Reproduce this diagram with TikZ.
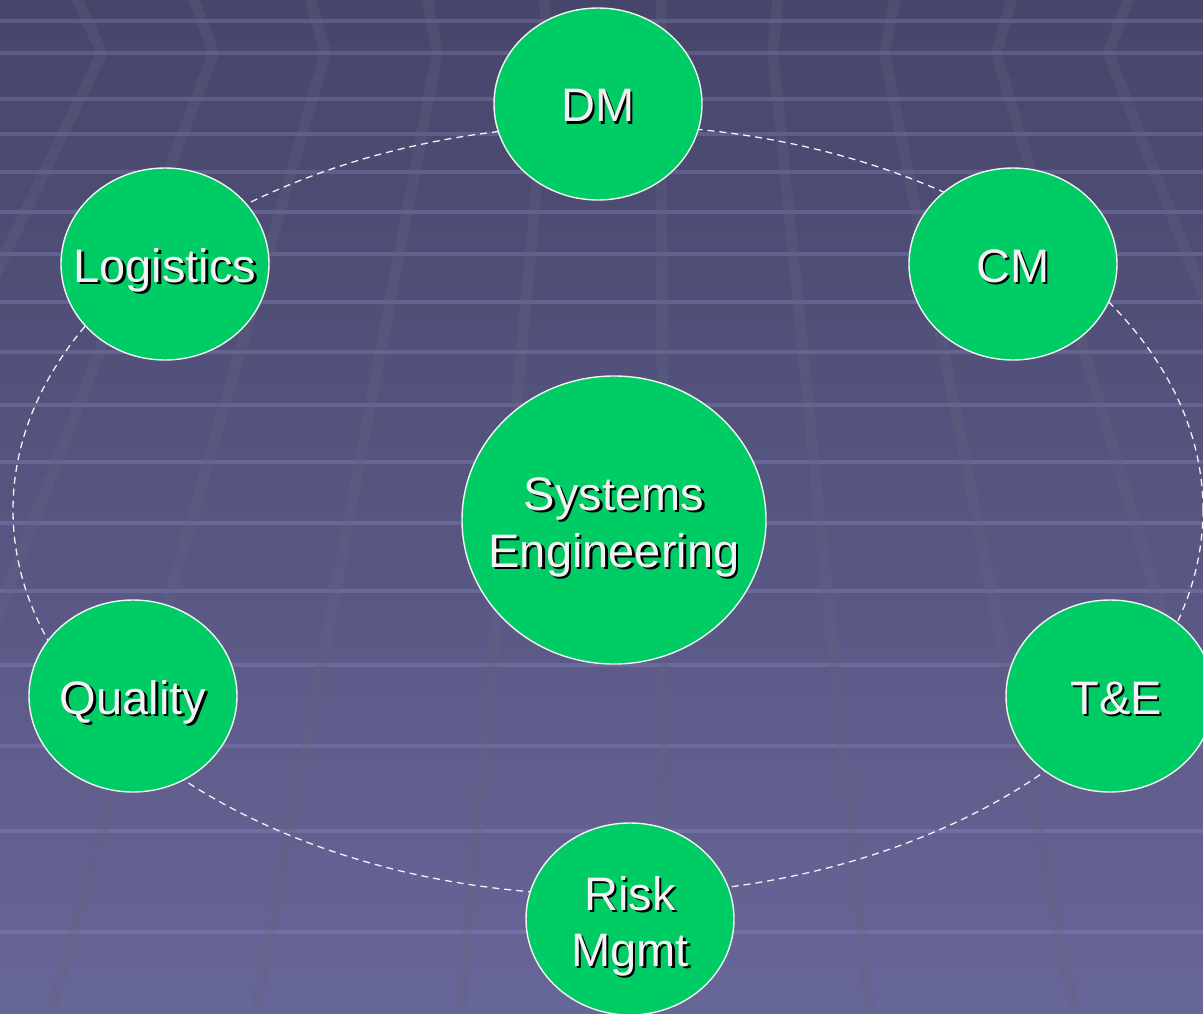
\documentclass[tikz,border=0pt]{standalone}
\usepackage{fontspec}
\setmainfont{Liberation Sans}
\usetikzlibrary{shapes.geometric}
\definecolor{bgtop}{RGB}{70,69,106}
\definecolor{bgbot}{RGB}{103,102,152}
\definecolor{nodegreen}{RGB}{0,204,102}
\definecolor{txt}{RGB}{242,242,242}
\definecolor{stripecol}{RGB}{150,150,210}
\definecolor{gridcol}{RGB}{100,100,128}
\newcommand\shtext[1]{\makebox[0pt][l]{\hspace{2.5pt}\raisebox{-2.5pt}{\color{black}#1}}#1}
\newcommand\ctext[2][0pt]{\raisebox{#1}[0pt][0pt]{\makebox[0pt]{\shtext{#2}}}}
\begin{document}
\begin{tikzpicture}[x=1pt,y=-1pt,
  bubble/.style={ellipse, fill=nodegreen, draw=txt, line width=1.4pt, inner sep=0pt,
    minimum width=208pt, minimum height=192pt, text=txt,
    font=\fontsize{47pt}{56pt}\selectfont},
  bigbubble/.style={bubble, minimum width=304pt, minimum height=288pt},
  ring/.style={draw=txt, line width=1.3pt, dash pattern=on 7pt off 5pt},
  stripe/.style={draw=stripecol, draw opacity=0.28, line width=4pt},
  gridline/.style={draw=gridcol, draw opacity=0.3, line width=11pt, line join=miter}]
\path[use as bounding box, clip] (0,0) rectangle (1203,1014);
\shade[top color=bgtop, bottom color=bgbot] (0,0) rectangle (1203,1014);
\foreach \y in {21,53,99,134,172,212,254,302,352,405,462,523,591,665,746,831,932}
  \draw[stripe] (0,\y) -- (1203,\y);
\foreach \xb in {-565,-360,-155,50,255,460,665,870,1075,1280,1485,1690}{
  \pgfmathsetmacro\xm{656+0.5454*(\xb-656)}
  \pgfmathsetmacro\xz{656+0.5203*(\xb-656)}
  \pgfmathsetmacro\xt{2*\xm-\xz}
  \draw[gridline] (\xb,1014) -- (\xm,53) -- (\xt,-2);
}
\coordinate (ringc) at (608,510);
\draw[ring] (ringc) ellipse [x radius=595pt, y radius=385pt];
\node[bubble] (dm) at (598,104) {\ctext[-18pt]{DM}};
\node[bubble] (cm) at (1013,264) {\ctext[-18pt]{CM}};
\node[bubble] (log) at (165,264) {\ctext[-18pt]{Logistics}};
\node[bubble] (qual) at (133,696) {\ctext[-18pt]{Quality}};
\node[bubble] (te) at (1110,696) {\ctext[-18pt]{\hspace{12pt}T\&E}};
\node[bubble] (risk) at (630,919) {\ctext[9pt]{Risk}\ctext[-47pt]{Mgmt}};
\node[bigbubble] (se) at (614,520) {\ctext[10pt]{Systems}\ctext[-47pt]{Engineering}};
\end{tikzpicture}
\end{document}
